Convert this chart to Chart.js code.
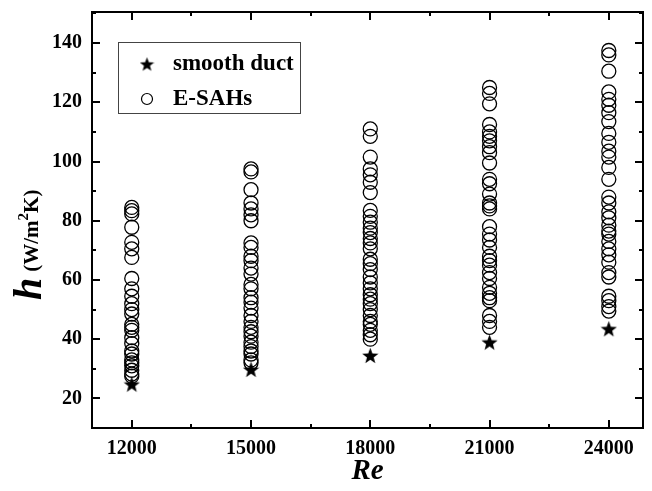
<!DOCTYPE html>
<html>
<head>
<meta charset="utf-8">
<script src="https://cdn.jsdelivr.net/npm/chart.js@4.4.1/dist/chart.umd.min.js"></script>
<style>
  html, body { margin: 0; padding: 0; background: #fff; }
</style>
</head>
<body>
<canvas id="chart" width="652" height="491"></canvas>
<script>
// Re values (x categories)
const reValues = [12000, 15000, 18000, 21000, 24000];

// smooth duct, one value per Re
const smoothDuct = [24.8, 29.8, 34.5, 39, 43.5];

// E-SAHs, one list per Re
const esah12000 = [84.5, 83.4, 82.3, 77.8, 72.7, 70.5, 67.6, 60.5, 57, 54.5, 52, 50, 48.5, 45, 44, 43, 40.5, 38.5, 36, 35, 33, 32, 31, 29.5, 28.2, 27.5];
const esah15000 = [97.5, 96.5, 90.5, 86, 84, 82, 80, 72.5, 71, 68, 66.5, 64, 62, 58.5, 57, 54, 52.5, 50.5, 48, 46, 44, 42.5, 41, 39, 37.5, 36, 35, 33, 32];
const esah18000 = [111, 108.5, 101.5, 97.5, 95.5, 93, 89.5, 83.5, 81.5, 79.5, 77.5, 76, 74, 72.5, 70.5, 67, 65.5, 63.5, 61, 59, 57, 55, 53.5, 52, 50, 48, 46, 45, 43, 41.5, 40];
const esah21000 = [125, 123, 119.5, 112.5, 110, 108.5, 107, 105, 103, 99.5, 94, 92.5, 89, 86, 85, 84, 78, 75.5, 73.5, 71, 68, 66.5, 65, 62.5, 60.5, 57.5, 55.5, 54, 53, 48, 46, 44];
const esah24000 = [137.5, 136, 130.5, 123.5, 121, 119, 116.5, 113.5, 109.5, 106.5, 103.5, 101.5, 98, 94, 88, 86, 83, 81, 78.5, 76.5, 75.5, 73, 70.5, 68.5, 66, 62.5, 61, 54.5, 53, 51, 49.5];

// tick labels
const xTicks = [12000, 15000, 18000, 21000, 24000];
const xMinor = [13500, 16500, 19500, 22500];
const yTicks = [20, 40, 60, 80, 100, 120, 140];
const yMinor = [30, 50, 70, 90, 110, 130, 150];

const esahLists = [esah12000, esah15000, esah18000, esah21000, esah24000];
const esahPoints = [];
esahLists.forEach((list, i) => {
  list.forEach(v => esahPoints.push({ x: reValues[i], y: v }));
});
const smoothPoints = reValues.map((re, i) => ({ x: re, y: smoothDuct[i] }));

// filled star marker
function makeStar(size) {
  const c = document.createElement('canvas');
  c.width = size; c.height = size;
  const g = c.getContext('2d');
  const cx = size / 2, cy = size / 2 + 0.8, R = size / 2, r = R * 0.42;
  g.beginPath();
  for (let k = 0; k < 10; k++) {
    const rad = k % 2 === 0 ? R : r;
    const ang = -Math.PI / 2 + k * Math.PI / 5;
    g.lineTo(cx + rad * Math.cos(ang), cy + rad * Math.sin(ang));
  }
  g.closePath();
  g.fillStyle = '#000';
  g.fill();
  return c;
}
const starImg = makeStar(17);
const legendStar = makeStar(15);

const serif = '"Liberation Serif", "Times New Roman", serif';

const framePlugin = {
  id: 'frame',
  afterDatasetsDraw(chart) {
    const { ctx, chartArea: a, scales: { x, y } } = chart;
    ctx.save();
    ctx.strokeStyle = '#000';
    ctx.lineWidth = 2;
    ctx.strokeRect(a.left, a.top, a.right - a.left, a.bottom - a.top);

    // inward ticks on all four sides
    const xt = (vals, len) => vals.forEach(v => {
      const px = Math.round(x.getPixelForValue(v));
      ctx.beginPath();
      ctx.moveTo(px, a.bottom); ctx.lineTo(px, a.bottom - len);
      ctx.moveTo(px, a.top); ctx.lineTo(px, a.top + len);
      ctx.stroke();
    });
    const yt = (vals, len) => vals.forEach(v => {
      if (v > y.max || v < y.min) return;
      const py = Math.round(y.getPixelForValue(v));
      ctx.beginPath();
      ctx.moveTo(a.left, py); ctx.lineTo(a.left + len, py);
      ctx.moveTo(a.right, py); ctx.lineTo(a.right - len, py);
      ctx.stroke();
    });
    xt(xTicks, 8); xt(xMinor, 4);
    yt(yTicks, 8); yt(yMinor, 4);

    // legend box
    ctx.lineWidth = 1;
    ctx.strokeStyle = '#444';
    ctx.strokeRect(118.5, 42.5, 182, 71);
    ctx.drawImage(legendStar, 147 - 7.5, 64 - 7.5);
    ctx.lineWidth = 1.2;
    ctx.strokeStyle = '#000';
    ctx.beginPath();
    ctx.arc(147, 99, 5.5, 0, Math.PI * 2);
    ctx.stroke();
    ctx.fillStyle = '#000';
    ctx.font = 'bold 23px ' + serif;
    ctx.textBaseline = 'middle';
    ctx.textAlign = 'left';
    ctx.fillText('smooth duct', 173, 64);
    ctx.fillText('E-SAHs', 173, 99);

    // x title
    ctx.font = 'italic bold 29px ' + serif;
    ctx.textAlign = 'center';
    ctx.textBaseline = 'alphabetic';
    ctx.fillText('Re', (a.left + a.right) / 2, 479);

    // y title: h (W/m2K)
    ctx.translate(41, 300);
    ctx.rotate(-Math.PI / 2);
    ctx.textAlign = 'left';
    ctx.font = 'italic bold 40px ' + serif;
    ctx.fillText('h', 0, 0);
    let pos = ctx.measureText('h').width + 6;
    ctx.font = 'bold 21px ' + serif;
    ctx.fillText('(W/m', pos, -3);
    pos += ctx.measureText('(W/m').width;
    ctx.font = 'bold 15px ' + serif;
    ctx.fillText('2', pos, -13);
    pos += ctx.measureText('2').width;
    ctx.font = 'bold 21px ' + serif;
    ctx.fillText('K)', pos, -3);
    ctx.restore();
  }
};

new Chart(document.getElementById('chart'), {
  type: 'scatter',
  data: {
    datasets: [
      {
        label: 'E-SAHs',
        data: esahPoints,
        pointStyle: 'circle',
        pointRadius: 7,
        pointHoverRadius: 7,
        borderWidth: 1.3,
        borderColor: '#000',
        backgroundColor: 'rgba(0,0,0,0)'
      },
      {
        label: 'smooth duct',
        data: smoothPoints,
        pointStyle: starImg,
        pointRadius: 8,
        borderColor: '#000',
        backgroundColor: '#000'
      }
    ]
  },
  options: {
    responsive: false,
    animation: false,
    devicePixelRatio: 1,
    layout: { padding: { left: 0, right: 2, top: 12, bottom: 0 } },
    plugins: { legend: { display: false }, tooltip: { enabled: false } },
    scales: {
      x: {
        type: 'linear',
        min: 11000,
        max: 24860,
        afterFit: s => { s.height = 63; s.paddingLeft = 0; s.paddingRight = 0; },
        afterBuildTicks: s => { s.ticks = xTicks.map(v => ({ value: v })); },
        grid: { display: false, drawTicks: false },
        border: { display: false },
        ticks: {
          padding: 9,
          color: '#000',
          font: { family: serif, size: 20, weight: 'bold' },
          maxRotation: 0,
          callback: v => String(v)
        }
      },
      y: {
        min: 10,
        max: 150.5,
        afterFit: s => { s.width = 92; s.paddingTop = 0; s.paddingBottom = 0; },
        afterBuildTicks: s => { s.ticks = yTicks.map(v => ({ value: v })); },
        grid: { display: false, drawTicks: false },
        border: { display: false },
        ticks: {
          padding: 10,
          color: '#000',
          font: { family: serif, size: 20, weight: 'bold' },
          callback: v => String(v)
        }
      }
    }
  },
  plugins: [framePlugin]
});
</script>
</body>
</html>
